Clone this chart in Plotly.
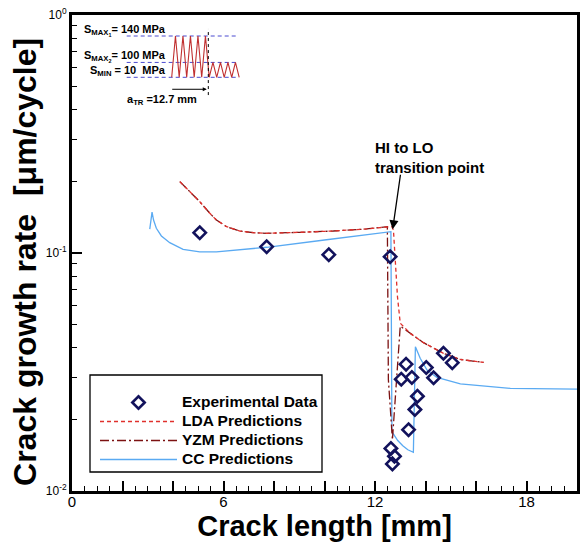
import math
import plotly.graph_objects as go

# ---------------- data ----------------
# Experimental crack growth rates (crack length in mm, rate in um/cycle)
exp_a = [5.06, 7.71, 10.17, 12.60, 12.63, 12.69, 12.77, 13.04, 13.23, 13.33,
         13.46, 13.58, 13.68, 14.03, 14.32, 14.71, 15.06]
exp_rate = [0.1217, 0.1063, 0.0984, 0.0965, 0.0151, 0.0130, 0.0140, 0.0295, 0.0341, 0.0181,
            0.0300, 0.0220, 0.0250, 0.0330, 0.0299, 0.0379, 0.0346]

# LDA model predictions
lda_a = [4.27, 4.66, 5.06, 5.46, 5.72, 6.12, 6.65, 7.18, 7.71, 9.03, 10.35, 11.67,
         12.51, 12.66, 12.73, 12.80, 12.89, 13.00, 13.39, 13.92, 14.71, 15.38, 16.30]
lda_rate = [0.1995, 0.1810, 0.1643, 0.1468, 0.1376, 0.1290, 0.1237, 0.1217, 0.1210, 0.1222,
            0.1237, 0.1262, 0.1290, 0.1292, 0.1250, 0.0905, 0.0656, 0.0507, 0.0460, 0.0420,
            0.0379, 0.0357, 0.0347]

# YZM model predictions
yzm_a = [4.27, 4.66, 5.06, 5.46, 5.72, 6.12, 6.65, 7.18, 7.71, 9.03, 10.35, 11.67,
         12.49, 12.53, 12.69, 13.00, 13.39, 13.92, 14.71, 15.38, 16.30]
yzm_rate = [0.1995, 0.1810, 0.1643, 0.1468, 0.1376, 0.1290, 0.1237, 0.1217, 0.1210, 0.1222,
            0.1237, 0.1262, 0.1290, 0.0294, 0.0164, 0.0493, 0.0460, 0.0420, 0.0379, 0.0357,
            0.0347]

# CC model predictions
cc_a = [3.08, 3.17, 3.23, 3.34, 3.54, 3.87, 4.40, 5.06, 5.72, 6.65, 7.71, 10.00, 12.63,
        12.67, 12.75, 12.90, 13.10, 13.30, 13.52, 13.60, 13.79, 14.06, 14.45, 15.38, 17.36, 20.00]
cc_rate = [0.1260, 0.1485, 0.1376, 0.1270, 0.1179, 0.1105, 0.1036, 0.1010, 0.1010, 0.1030,
           0.1057, 0.1134, 0.1229, 0.01775, 0.0172, 0.0163, 0.0155, 0.0149, 0.01455, 0.0404,
           0.0361, 0.03225, 0.0300, 0.02817, 0.0270, 0.0268]

# HI-LO transition
a_transition = 12.7
rate_at_transition = 0.1258

# Axis ticks
x_major = [0, 2, 4, 6, 8, 10, 12, 14, 16, 18, 20]
x_labels = ["0", "", "", "6", "", "", "12", "", "", "18", ""]
y_major = [0.01, 0.1, 1]
y_labels = ["10<sup>-2</sup>", "10<sup>-1</sup>", "10<sup>0</sup>"]

# Loading schematic: stress levels (MPa) and number of cycles drawn per block
stress_labels = ["S<sub>MAX<sub>1</sub></sub>= 140 MPa",
                 "S<sub>MAX<sub>2</sub></sub>= 100 MPa",
                 "S<sub>MIN</sub> = 10 \u00a0MPa"]
hi_cycles = 5
lo_cycles = 4

# ---------------- layout helpers ----------------
FONT = "Liberation Sans, Arial, sans-serif"
PL, PR, PT, PB = 72, 577, 15, 491          # plot area in pixels
PW, PH = PR - PL, PB - PT


def px_x(px):
    return (px - PL) / PW


def px_y(py):
    return (PB - py) / PH


def legend_name(text):
    return '<span style="font-size:15.5px">' + text + '</span>'


# schematic drawing heights of the stress levels
h_max1, h_max2, h_min = 1.0, 0.36, 0.0
wave_x, wave_y = [], []
for i in range(hi_cycles):
    wave_x += [i, i + 0.5]
    wave_y += [h_min, h_max1]
for j in range(lo_cycles):
    k = hi_cycles + j
    wave_x += [k, k + 0.5]
    wave_y += [h_min, h_max2]
wave_x.append(hi_cycles + lo_cycles)
wave_y.append(h_min)

fig = go.Figure()

LDA_COLOR = "#e0302c"
YZM_COLOR = "#7c1212"
CC_COLOR = "#5aaaf2"
EXP_COLOR = "#12125c"

fig.add_trace(go.Scatter(
    x=cc_a, y=cc_rate, mode="lines", name=legend_name("CC Predictions"),
    line=dict(color=CC_COLOR, width=1.3), legendrank=4))
fig.add_trace(go.Scatter(
    x=yzm_a, y=yzm_rate, mode="lines", name=legend_name("YZM Predictions"),
    line=dict(color=YZM_COLOR, width=1.3, dash="9px,3px,2px,3px"), legendrank=3))
fig.add_trace(go.Scatter(
    x=lda_a, y=lda_rate, mode="lines", name=legend_name("LDA Predictions"),
    line=dict(color=LDA_COLOR, width=1.3, dash="4px,3px"), legendrank=2))
fig.add_trace(go.Scatter(
    x=exp_a, y=exp_rate, mode="markers", name=legend_name("Experimental Data"),
    marker=dict(symbol="diamond-open", size=9.5, color=EXP_COLOR,
                line=dict(color=EXP_COLOR, width=2.6)), legendrank=1))

# loading schematic (inset)
for h in (h_max1, h_max2, h_min):
    fig.add_trace(go.Scatter(
        x=[-6.0, 8.9], y=[h, h], mode="lines", xaxis="x2", yaxis="y2", showlegend=False,
        line=dict(color="#4a4ad0", width=1, dash="4px,3px"), hoverinfo="skip"))
fig.add_trace(go.Scatter(
    x=wave_x, y=wave_y, mode="lines", xaxis="x2", yaxis="y2", showlegend=False,
    line=dict(color="#c03030", width=1.1), hoverinfo="skip"))
fig.add_shape(type="line", xref="x2", yref="y2", x0=4.88, x1=4.88, y0=-0.43, y1=1.17,
              line=dict(color="black", width=1, dash="dot"))

annotations = [
    dict(xref="paper", yref="paper", x=px_x(168), y=px_y(31), xanchor="right", yanchor="middle",
         text="<b>" + stress_labels[0] + "</b>", showarrow=False,
         font=dict(family=FONT, size=11, color="black")),
    dict(xref="paper", yref="paper", x=px_x(168), y=px_y(56), xanchor="right", yanchor="middle",
         text="<b>" + stress_labels[1] + "</b>", showarrow=False,
         font=dict(family=FONT, size=11, color="black")),
    dict(xref="paper", yref="paper", x=px_x(168), y=px_y(71), xanchor="right", yanchor="middle",
         text="<b>" + stress_labels[2] + "</b>", showarrow=False,
         font=dict(family=FONT, size=11, color="black")),
    dict(xref="paper", yref="paper", x=px_x(125), y=px_y(100), xanchor="left", yanchor="middle",
         text="<b>a<sub>TR</sub> =12.7 mm</b>", showarrow=False,
         font=dict(family=FONT, size=11, color="black")),
    dict(xref="x2", yref="y2", x=4.67, y=-0.29, ax=-36, ay=0, axref="pixel", ayref="pixel",
         text="", showarrow=True, arrowhead=2, arrowsize=0.8, arrowwidth=1, arrowcolor="black"),
    dict(xref="paper", yref="paper", x=px_x(373), y=px_y(157), xanchor="left", yanchor="middle",
         align="left", text="<b>HI to LO<br>transition point</b>", showarrow=False,
         font=dict(family=FONT, size=15, color="black")),
    dict(xref="x", yref="y", x=a_transition, y=math.log10(rate_at_transition),
         ax=8, ay=-56, text="", showarrow=True, arrowhead=2, arrowsize=1.4,
         arrowwidth=1.3, arrowcolor="black"),
]

# legend frame
fig.add_shape(type="rect", xref="paper", yref="paper",
              x0=px_x(90), x1=px_x(322), y0=px_y(472), y1=px_y(375),
              line=dict(color="black", width=1.3), fillcolor="rgba(0,0,0,0)")

fig.update_layout(
    width=584, height=544,
    margin=dict(l=PL, r=584 - PR, t=PT, b=544 - PB),
    paper_bgcolor="white", plot_bgcolor="white",
    font=dict(family=FONT, color="black"),
    showlegend=True,
    legend=dict(x=px_x(95), y=px_y(388), xanchor="left", yanchor="top",
                bgcolor="rgba(0,0,0,0)", borderwidth=0,
                font=dict(family=FONT, size=11, color="black", weight="bold"),
                itemwidth=77, tracegroupgap=0),
    annotations=annotations,
    xaxis=dict(
        range=[0, 20], tickmode="array", tickvals=x_major, ticktext=x_labels,
        ticks="inside", ticklen=10, tickwidth=1.5, tickcolor="black",
        minor=dict(ticks="inside", ticklen=5, tickwidth=1.2, tickcolor="black", dtick=0.5, tick0=0),
        showgrid=False, zeroline=False, showline=True, linewidth=3, linecolor="black", mirror=True,
        tickfont=dict(family=FONT, size=15, color="black"),
        ticklabelstandoff=-5,
        title=dict(text="<b>Crack length [mm]</b>", font=dict(family=FONT, size=29, color="black"),
                   standoff=0),
        automargin=False,
    ),
    yaxis=dict(
        type="log", range=[-2, 0], tickmode="array", tickvals=y_major, ticktext=y_labels,
        ticks="inside", ticklen=10, tickwidth=1.5, tickcolor="black",
        minor=dict(ticks="inside", ticklen=5, tickwidth=1.2, tickcolor="black",
                   tickmode="array",
                   tickvals=[m * d for d in (0.01, 0.1) for m in range(2, 10)]),
        showgrid=False, zeroline=False, showline=True, linewidth=3, linecolor="black", mirror=True,
        tickfont=dict(family=FONT, size=12, color="black"),
        title=dict(text="<b>Crack growth rate\u00a0 [\u03bcm/cycle]\u00a0\u00a0</b>",
                   font=dict(family=FONT, size=32, color="black"), standoff=0),
        automargin=False,
    ),
    xaxis2=dict(domain=[px_x(120), px_x(245)], range=[(120 - 171.7) / 7.5, (245 - 171.7) / 7.5],
                anchor="y2", visible=False, fixedrange=True),
    yaxis2=dict(domain=[px_y(100), px_y(20)], range=[-0.5496, 1.3874],
                anchor="x2", visible=False, fixedrange=True),
)

fig.write_html("out.html")
